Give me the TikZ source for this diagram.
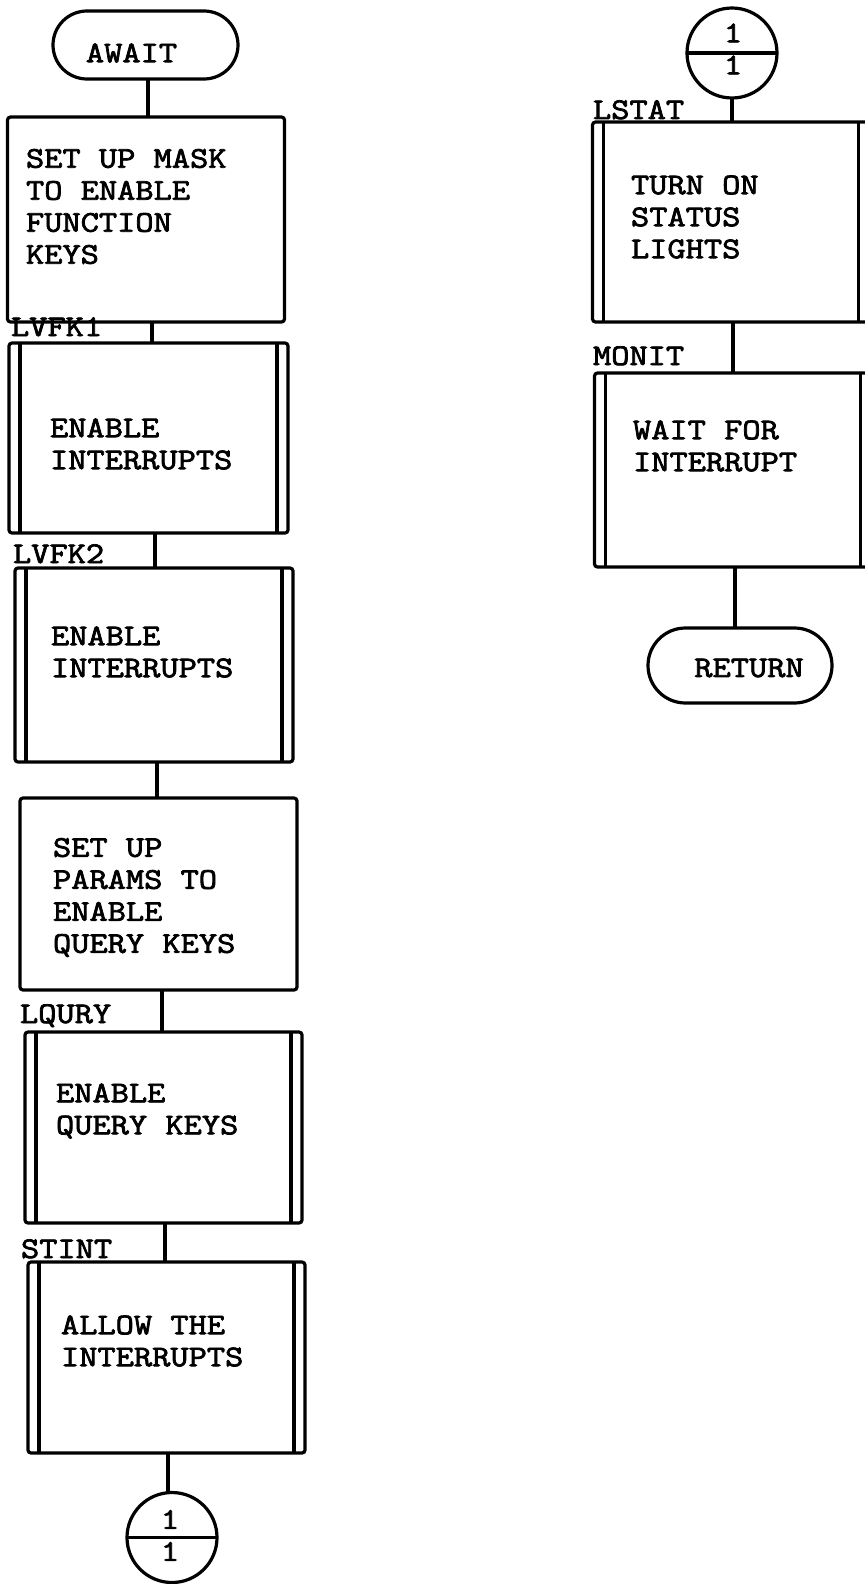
\documentclass[tikz,border=0pt]{standalone}
\usepackage{fontspec}
\newfontfamily\tw[FakeStretch=1.18,FakeBold=2.5]{Latin Modern Mono}
\usetikzlibrary{shapes.misc}
\begin{document}
\begin{tikzpicture}[x=0.5pt,y=-0.5pt, line width=1.6pt,
  every node/.style={inner sep=0pt, outer sep=0pt},
  twf/.style={font=\tw\fontsize{15}{16}\selectfont},
  term/.style={draw, rounded rectangle},
  procbox/.style={draw, rectangle, rounded corners=1.5pt, minimum width=138.5pt},
  predef/.style={procbox, path picture={
      \draw ([xshift=5.5pt]path picture bounding box.north west) -- ([xshift=5.5pt]path picture bounding box.south west);
      \draw ([xshift=-5.5pt]path picture bounding box.north east) -- ([xshift=-5.5pt]path picture bounding box.south east);}},
  conn/.style={draw, circle, minimum size=45pt},
  txt/.style={twf, align=left, anchor=west},
  lbl/.style={twf, anchor=base west},
  ctxt/.style={twf, anchor=center},
]
\path[fill=white] (0,0) rectangle (865,1584);
\clip (0,0) rectangle (865,1584);

% left column
\node[term, minimum width=92.5pt, minimum height=34pt] (await) at (145.5,45) {};
\node[ctxt] (awaitT) at (131.5,53) {AWAIT};

\node[procbox, minimum height=102.5pt] (b1) at (146,219.5) {};
\node[txt] (b1T) at (26,206.5) {SET UP MASK\\TO ENABLE\\FUNCTION\\KEYS};

\node[predef, minimum width=139.5pt, minimum height=95pt] (b2) at (148.5,438) {};
\node[txt] (b2T) at (50,444) {ENABLE\\INTERRUPTS};
\node[lbl] (l1) at (11,336) {LVFK1};

\node[predef, minimum width=139pt, minimum height=97pt] (b3) at (154,665) {};
\node[txt] (b3T) at (51,652) {ENABLE\\INTERRUPTS};
\node[lbl] (l2) at (13,563) {LVFK2};

\node[procbox, minimum height=96pt] (b4) at (158.5,894) {};
\node[txt] (b4T) at (53,897.5) {SET UP\\PARAMS TO\\ENABLE\\QUERY KEYS};

\node[predef, minimum height=95.5pt] (b5) at (163.5,1127.5) {};
\node[txt] (b5T) at (56,1111) {ENABLE\\QUERY KEYS};
\node[lbl] (l3) at (20,1023) {LQURY};

\node[predef, minimum height=95.5pt] (b6) at (166.5,1357.5) {};
\node[txt] (b6T) at (61,1341) {ALLOW THE\\INTERRUPTS};
\node[lbl] (l4) at (21,1258) {STINT};

\node[conn] (c1) at (172,1537.5) {};
\draw (c1.west) -- (c1.east);
\node[ctxt] (c1a) at ([xshift=-1pt,yshift=9pt]c1.center) {1};
\node[ctxt] (c1b) at ([xshift=-1pt,yshift=-7pt]c1.center) {1};

% right column
\node[conn] (c2) at (732,53) {};
\draw (c2.west) -- (c2.east);
\node[ctxt] (c2a) at ([xshift=0.5pt,yshift=10pt]c2.center) {1};
\node[ctxt] (c2b) at ([xshift=0.5pt,yshift=-6pt]c2.center) {1};

\node[predef, minimum height=100pt] (b7) at (731,222) {};
\node[txt] (b7T) at (631,217) {TURN ON\\STATUS\\LIGHTS};
\node[lbl] (l5) at (593,119) {LSTAT};

\node[predef, minimum height=97pt] (b8) at (733,470) {};
\node[txt] (b8T) at (633,446) {WAIT FOR\\INTERRUPT};
\node[lbl] (l6) at (593,365) {MONIT};

\node[term, minimum width=92pt, minimum height=37.5pt] (ret) at (740,665.5) {};
\node[ctxt] (retT) at (749,668) {RETURN};

% connectors
\draw ([xshift=1.25pt]await.south) -- ([xshift=1.25pt]await.south |- b1.north);
\draw ([xshift=3pt]b1.south) -- ([xshift=3pt]b1.south |- b2.north);
\draw ([xshift=3.25pt]b2.south) -- ([xshift=3.25pt]b2.south |- b3.north);
\draw ([xshift=1.5pt]b3.south) -- ([xshift=1.5pt]b3.south |- b4.north);
\draw ([xshift=1.75pt]b4.south) -- ([xshift=1.75pt]b4.south |- b5.north);
\draw ([xshift=0.75pt]b5.south) -- ([xshift=0.75pt]b5.south |- b6.north);
\draw ([xshift=0.75pt]b6.south) -- ([xshift=0.75pt]b6.south |- c1.north);
\draw (c2.south) -- (c2.south |- b7.north);
\draw ([xshift=1pt]b7.south) -- ([xshift=1pt]b7.south |- b8.north);
\draw ([xshift=1pt]b8.south) -- ([xshift=1pt]b8.south |- ret.north);
\end{tikzpicture}
\end{document}
